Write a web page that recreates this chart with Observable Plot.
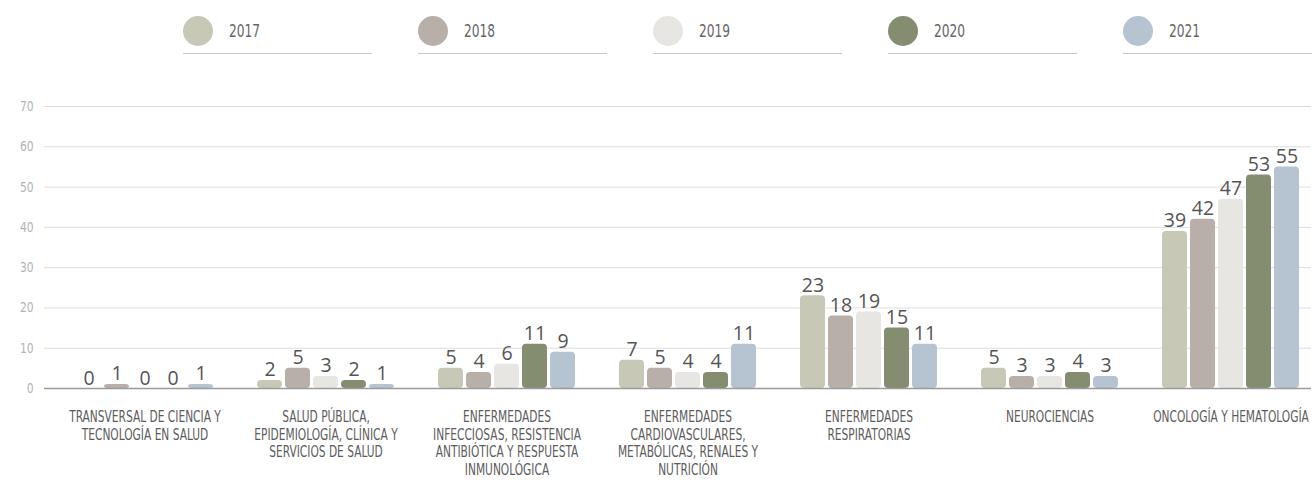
<!DOCTYPE html>
<html>
<head>
<meta charset="utf-8">
<script src="https://cdn.jsdelivr.net/npm/d3@7"></script>
<script src="https://cdn.jsdelivr.net/npm/@observablehq/plot@0.6"></script>
<style>
  html, body { margin: 0; padding: 0; background: #fff; overflow: hidden; }
  #legend { position: relative; height: 70px; width: 1313px; }
  .item { position: absolute; top: 16px; width: 189px; height: 37px; border-bottom: 1px solid #c8c8c8; }
  .dot { position: absolute; left: 0; top: 0; width: 30px; height: 30px; border-radius: 50%; }
  .lab { position: absolute; left: 46px; top: 5px; line-height: 20px; font-family: "DejaVu Sans Condensed", "DejaVu Sans", sans-serif; font-stretch: condensed; font-size: 17px; color: #666; transform: scaleX(0.8); transform-origin: left center; }
  #chart svg { display: block; }
</style>
</head>
<body>
<div id="legend"></div>
<div id="chart"></div>
<script>
const years = ["2017", "2018", "2019", "2020", "2021"];
const colors = ["#c7c9b6", "#b8afa9", "#e7e6e2", "#848d70", "#b6c3d0"];
const categories = [
  "TRANSVERSAL DE CIENCIA Y TECNOLOGÍA EN SALUD",
  "SALUD PÚBLICA, EPIDEMIOLOGÍA, CLÍNICA Y SERVICIOS DE SALUD",
  "ENFERMEDADES INFECCIOSAS, RESISTENCIA ANTIBIÓTICA Y RESPUESTA INMUNOLÓGICA",
  "ENFERMEDADES CARDIOVASCULARES, METABÓLICAS, RENALES Y NUTRICIÓN",
  "ENFERMEDADES RESPIRATORIAS",
  "NEUROCIENCIAS",
  "ONCOLOGÍA Y HEMATOLOGÍA"
];
const categoryLabels = [
  "TRANSVERSAL DE CIENCIA Y\nTECNOLOGÍA EN SALUD",
  "SALUD PÚBLICA,\nEPIDEMIOLOGÍA, CLÍNICA Y\nSERVICIOS DE SALUD",
  "ENFERMEDADES\nINFECCIOSAS, RESISTENCIA\nANTIBIÓTICA Y RESPUESTA\nINMUNOLÓGICA",
  "ENFERMEDADES\nCARDIOVASCULARES,\nMETABÓLICAS, RENALES Y\nNUTRICIÓN",
  "ENFERMEDADES\nRESPIRATORIAS",
  "NEUROCIENCIAS",
  "ONCOLOGÍA Y HEMATOLOGÍA"
];
const v2017 = [0, 2, 5, 7, 23, 5, 39];
const v2018 = [1, 5, 4, 5, 18, 3, 42];
const v2019 = [0, 3, 6, 4, 19, 3, 47];
const v2020 = [0, 2, 11, 4, 15, 4, 53];
const v2021 = [1, 1, 9, 11, 11, 3, 55];
const yTicks = [0, 10, 20, 30, 40, 50, 60, 70];

const series = [v2017, v2018, v2019, v2020, v2021];
const data = [];
categories.forEach((c, i) => {
  years.forEach((y, j) => data.push({category: c, year: y, value: series[j][i]}));
});
const labelRows = categories.map((c, i) => ({category: c, label: categoryLabels[i]}));

// Legend
const legend = document.getElementById("legend");
years.forEach((y, i) => {
  const item = document.createElement("div");
  item.className = "item";
  item.style.left = (183 + i * 235) + "px";
  const dot = document.createElement("div");
  dot.className = "dot";
  dot.style.background = colors[i];
  const lab = document.createElement("div");
  lab.className = "lab";
  lab.textContent = y;
  item.appendChild(dot);
  item.appendChild(lab);
  legend.appendChild(item);
});

const condensed = '"DejaVu Sans Condensed", "DejaVu Sans", sans-serif';

const chart = Plot.plot({
  width: 1313,
  height: 410,
  marginTop: 36,
  marginBottom: 92,
  marginLeft: 42,
  marginRight: 0,
  style: {fontFamily: condensed, background: "white"},
  fx: {domain: categories, padding: 0, axis: null},
  x: {domain: years, paddingInner: 0.1, paddingOuter: 0.05, insetLeft: 31, insetRight: 10, axis: null},
  y: {domain: [0, 70], axis: null},
  color: {domain: years, range: colors},
  marks: [
    Plot.gridY(yTicks, {stroke: "#dedede", strokeOpacity: 1, strokeWidth: 1}),
    Plot.axisY(yTicks, {tickSize: 0, tickPadding: 11, fontSize: 14, fill: "#b3b3b3", label: null, className: "ytick"}),
    Plot.barY(data, {fx: "category", x: "year", y: "value", fill: "year", rx: 4}),
    Plot.ruleY([0], {stroke: "#9a9a9a", strokeWidth: 1.5}),
    Plot.text(data, {fx: "category", x: "year", y: "value", text: d => String(d.value),
      lineAnchor: "bottom", dy: -4, fontSize: 19.5, fill: "#555", fontFamily: '"Open Sans", sans-serif'}),
    Plot.text(labelRows, {fx: "category", text: "label", frameAnchor: "bottom", lineAnchor: "top",
      dy: 21, dx: 10, fontSize: 16, lineHeight: 1.1, fill: "#5c5c5c", className: "catlabel"})
  ]
});
document.getElementById("chart").appendChild(chart);
// horizontally condense the category labels (narrow typeface look)
chart.querySelectorAll(".catlabel text").forEach(t => {
  const tr = t.getAttribute("transform") || "";
  t.setAttribute("transform", tr + " scale(0.74,1)");
});
chart.querySelectorAll(".ytick text").forEach(t => {
  const tr = t.getAttribute("transform") || "";
  t.setAttribute("transform", tr + " scale(0.85,1)");
});
</script>
</body>
</html>
